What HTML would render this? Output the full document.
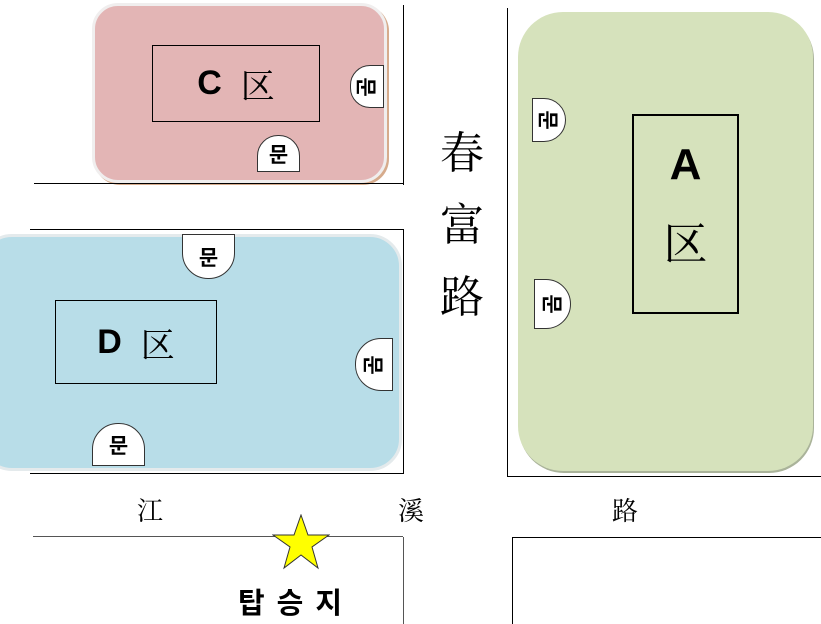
<!DOCTYPE html>
<html style="overflow:hidden;width:821px;height:624px"><head><meta charset="utf-8"><style>
html,body{margin:0;width:821px;height:624px;overflow:hidden}
body{background:#fff;position:relative;font-family:"Liberation Sans","Noto Sans CJK KR",sans-serif}
div{position:absolute;box-sizing:border-box}
.l{background:#000}
.g{background:#fff;border:1px solid #333;display:flex;align-items:center;justify-content:center;font-size:21px;font-weight:bold;color:#000}
.r{transform:rotate(90deg);display:inline-block}
.cj{font-family:"Liberation Serif","Noto Serif CJK SC",serif;color:#000}
</style></head><body>
<!-- C -->
<div style="left:92px;top:3px;width:295px;height:180px;background:#e3b5b5;border:3px solid #f0eeee;border-radius:26px;box-shadow:2px 2px 0 #d6ab8c"></div>
<div style="left:152px;top:45px;width:168px;height:77px;border:1px solid #000;display:flex;align-items:center;justify-content:center;font-size:34px;font-weight:bold">C&nbsp;&nbsp;<span class="cj" style="font-weight:normal">区</span></div>
<div class="g" style="left:350px;top:65px;width:34px;height:43px;border-radius:20px 0 0 20px"><span class="r">문</span></div>
<div class="g" style="left:257px;top:135px;width:43px;height:37px;border-radius:21px 21px 0 0">문</div>
<div class="l" style="left:403px;top:5px;width:1px;height:180px"></div>
<div class="l" style="left:34px;top:183px;width:370px;height:1px"></div>
<!-- D -->
<div class="l" style="left:30px;top:229px;width:374px;height:1px"></div>
<div class="l" style="left:403px;top:229px;width:1px;height:245px"></div>
<div class="l" style="left:30px;top:473px;width:374px;height:1px"></div>
<div style="left:-20px;top:234px;width:422px;height:237px;background:#b8dde8;border:3px solid #e4eaec;border-radius:32px"></div>
<div style="left:55px;top:300px;width:162px;height:84px;border:1px solid #000;display:flex;align-items:center;justify-content:center;font-size:34px;font-weight:bold">D&nbsp;&nbsp;<span class="cj" style="font-weight:normal">区</span></div>
<div class="g" style="left:182px;top:234px;width:53px;height:45px;border-radius:0 0 26px 26px">문</div>
<div class="g" style="left:355px;top:338px;width:38px;height:53px;border-radius:26px 0 0 26px"><span class="r">문</span></div>
<div class="g" style="left:92px;top:423px;width:53px;height:43px;border-radius:26px 26px 0 0">문</div>
<!-- A -->
<div class="l" style="left:507px;top:8px;width:1px;height:469px"></div>
<div class="l" style="left:507px;top:476px;width:314px;height:1px"></div>
<div style="left:518px;top:12px;width:295px;height:459px;background:#d6e2bc;border-radius:45px;box-shadow:1px 2px 0 #aab39a"></div>
<div style="left:632px;top:114px;width:107px;height:200px;border:2px solid #000"></div>
<div style="left:632px;top:140px;width:107px;text-align:center;font-size:44px;font-weight:bold">A</div>
<div class="cj" style="left:632px;top:208px;width:107px;text-align:center;font-size:44px">区</div>
<div class="g" style="left:532px;top:98px;width:34px;height:44px;border-radius:0 22px 22px 0"><span class="r">문</span></div>
<div class="g" style="left:534px;top:279px;width:37px;height:50px;border-radius:0 25px 25px 0"><span class="r">문</span></div>
<!-- road labels -->
<div class="cj" style="left:440px;top:118px;font-size:44px;line-height:72px;width:50px">春<br>富<br>路</div>
<div class="cj" style="left:137px;top:491px;font-size:26px">江</div>
<div class="cj" style="left:398px;top:491px;font-size:26px">溪</div>
<div class="cj" style="left:612px;top:491px;font-size:26px">路</div>
<!-- bottom -->
<div class="l" style="left:33px;top:536px;width:370px;height:1px;background:#555"></div>
<div class="l" style="left:403px;top:537px;width:1px;height:87px;background:#555"></div>
<div style="left:512px;top:537px;width:309px;height:87px;border-left:1px solid #000;border-top:1px solid #000"></div>
<svg style="position:absolute;left:272px;top:514px" width="58" height="56" viewBox="0 0 58 56"><polygon points="29,1 36,21 57,21 40,33 46,54 29,41 12,54 18,33 1,21 22,21" fill="#ffff00" stroke="#333" stroke-width="1"/></svg>
<div style="left:238px;top:580px;font-size:29px;font-weight:bold;letter-spacing:12px">탑승지</div>
</body></html>
